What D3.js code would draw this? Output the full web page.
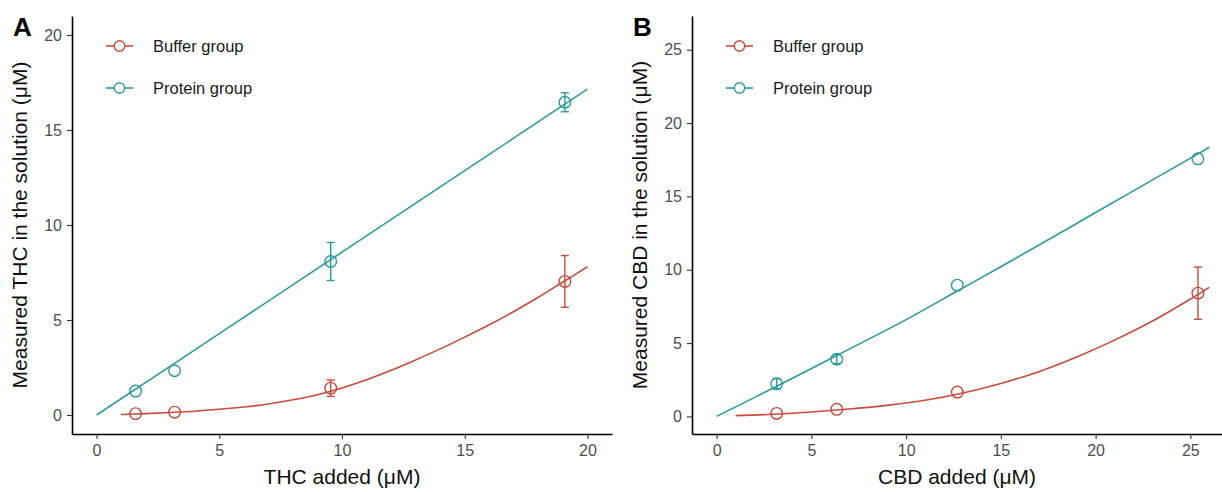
<!DOCTYPE html>
<html>
<head>
<meta charset="utf-8">
<script src="https://cdn.jsdelivr.net/npm/d3@7"></script>
<style>
  body { margin: 0; background: #fff; }
  text { font-family: "Liberation Sans", Arial, sans-serif; }
</style>
</head>
<body>
<div id="chart"></div>
<script>
// panel A - THC
const thcAdded = [1.59, 3.18, 9.54, 19.08];
const thcBuffer = [0.07, 0.15, 1.41, 7.03];
const thcBufferErr = [0.05, 0.05, 0.43, 1.36];
const thcProtein = [1.26, 2.33, 8.08, 16.46];
const thcProteinErr = [0.05, 0.05, 1.0, 0.5];
const thcBufferFitX = [1, 2, 3, 4, 5, 6, 7, 8, 9, 10, 11, 12, 13, 14, 15, 16, 17, 18, 19, 20];
const thcBufferFitY = [0.03, 0.07, 0.13, 0.2, 0.3, 0.42, 0.58, 0.8, 1.07, 1.42, 1.85, 2.35, 2.9, 3.48, 4.1, 4.75, 5.45, 6.2, 7.0, 7.8];
const thcProteinFitX = [0, 5, 10, 15, 20];
const thcProteinFitY = [0, 4.28, 8.57, 12.86, 17.15];

// panel B - CBD
const cbdAdded = [3.17, 6.34, 12.7, 25.4];
const cbdBuffer = [0.2, 0.48, 1.66, 8.4];
const cbdBufferErr = [0.05, 0.05, 0.05, 1.78];
const cbdProtein = [2.22, 3.9, 8.95, 17.56];
const cbdProteinErr = [0.35, 0.3, 0.05, 0.05];
const cbdBufferFitX = [1, 3, 5, 7, 9, 11, 13, 15, 17, 19, 21, 23, 25, 26];
const cbdBufferFitY = [0.05, 0.15, 0.3, 0.5, 0.75, 1.1, 1.6, 2.25, 3.05, 4.05, 5.2, 6.5, 8.0, 8.8];
const cbdProteinFitX = [0, 3.17, 6.34, 10, 12.7, 15, 20, 25.4, 26];
const cbdProteinFitY = [0, 2.05, 4.15, 6.6, 8.55, 10.2, 13.9, 17.9, 18.35];

const yTicksA = [0, 5, 10, 15, 20];
const xTicksA = [0, 5, 10, 15, 20];
const yTicksB = [0, 5, 10, 15, 20, 25];
const xTicksB = [0, 5, 10, 15, 20, 25];

const groupNames = ["Buffer group", "Protein group"];
const red = "#c84a3c";
const teal = "#2b9a9c";

const svg = d3.select("#chart").append("svg")
  .attr("width", 1222).attr("height", 492);

function drawPanel(opt) {
  const x = d3.scaleLinear().domain(opt.xDomain).range(opt.xRange);
  const y = d3.scaleLinear().domain(opt.yDomain).range([434, 16]);
  const g = svg.append("g");

  // axes
  const xAxis = g.append("g").attr("transform", "translate(0,434)")
    .call(d3.axisBottom(x).tickValues(opt.xTicks).tickSize(5).tickSizeOuter(0).tickPadding(6));
  const yAxis = g.append("g").attr("transform", `translate(${opt.xRange[0]},0)`)
    .call(d3.axisLeft(y).tickValues(opt.yTicks).tickSize(5).tickSizeOuter(0).tickPadding(5));
  [xAxis, yAxis].forEach(a => {
    a.select(".domain").attr("stroke", "#000").attr("stroke-width", 1.6);
    a.selectAll(".tick line").attr("stroke", "#333").attr("stroke-width", 1.1);
    a.selectAll(".tick text").attr("fill", "#4d4d4d").style("font-size", "16px");
  });

  const line = d3.line().x(d => x(d[0])).y(d => y(d[1])).curve(d3.curveCatmullRom);

  const series = [
    { color: red, fx: opt.bufFitX, fy: opt.bufFitY, vals: opt.buf, err: opt.bufErr },
    { color: teal, fx: opt.proFitX, fy: opt.proFitY, vals: opt.pro, err: opt.proErr }
  ];

  series.forEach(s => {
    g.append("path")
      .datum(d3.zip(s.fx, s.fy))
      .attr("d", line)
      .attr("fill", "none")
      .attr("stroke", s.color)
      .attr("stroke-width", 1.6);

    const pts = opt.added.map((a, i) => ({ x: a, y: s.vals[i], e: s.err[i] }));
    const eb = g.append("g").attr("stroke", s.color).attr("stroke-width", 1.4);
    pts.filter(d => d.e > 0.1).forEach(d => {
      eb.append("line").attr("x1", x(d.x)).attr("x2", x(d.x))
        .attr("y1", y(d.y - d.e)).attr("y2", y(d.y + d.e));
      [d.y - d.e, d.y + d.e].forEach(v => {
        eb.append("line").attr("x1", x(d.x) - 4).attr("x2", x(d.x) + 4)
          .attr("y1", y(v)).attr("y2", y(v));
      });
    });
    g.selectAll(null).data(pts).enter().append("circle")
      .attr("cx", d => x(d.x)).attr("cy", d => y(d.y))
      .attr("r", 5.8)
      .attr("fill", "none")
      .attr("stroke", s.color)
      .attr("stroke-width", 1.4);
  });

  // legend
  const lg = g.append("g").attr("transform", `translate(${opt.xRange[0] + 34},46)`);
  groupNames.forEach((name, i) => {
    const c = i === 0 ? red : teal;
    const row = lg.append("g").attr("transform", `translate(0,${i * 42})`);
    row.append("line").attr("x1", 0).attr("x2", 27).attr("stroke", c).attr("stroke-width", 1.6);
    row.append("circle").attr("cx", 13.5).attr("r", 5.2).attr("fill", "#fff")
      .attr("stroke", c).attr("stroke-width", 1.4);
    row.append("text").attr("x", 47).attr("y", 6).style("font-size", "16.5px")
      .attr("fill", "#1a1a1a").text(name);
  });

  // titles
  g.append("text")
    .attr("x", (opt.xRange[0] + opt.xRange[1]) / 2).attr("y", 484)
    .attr("text-anchor", "middle").style("font-size", "21px").attr("fill", "#111")
    .text(opt.xTitle);
  g.append("text")
    .attr("transform", `translate(${opt.xRange[0] - 45},225) rotate(-90)`)
    .attr("text-anchor", "middle").style("font-size", "21px").attr("fill", "#111")
    .text(opt.yTitle);
  g.append("text")
    .attr("x", opt.xRange[0] - 59).attr("y", 36)
    .style("font-size", "26px").style("font-weight", "bold").attr("fill", "#000")
    .text(opt.label);
}

drawPanel({
  label: "A",
  xDomain: [-1, 21], xRange: [72, 612], yDomain: [-1, 21],
  xTicks: xTicksA, yTicks: yTicksA,
  added: thcAdded,
  buf: thcBuffer, bufErr: thcBufferErr, pro: thcProtein, proErr: thcProteinErr,
  bufFitX: thcBufferFitX, bufFitY: thcBufferFitY,
  proFitX: thcProteinFitX, proFitY: thcProteinFitY,
  xTitle: "THC added (μM)",
  yTitle: "Measured THC in the solution (μM)"
});

drawPanel({
  label: "B",
  xDomain: [-1.3, 26.67], xRange: [692, 1222], yDomain: [-1.2, 27.3],
  xTicks: xTicksB, yTicks: yTicksB,
  added: cbdAdded,
  buf: cbdBuffer, bufErr: cbdBufferErr, pro: cbdProtein, proErr: cbdProteinErr,
  bufFitX: cbdBufferFitX, bufFitY: cbdBufferFitY,
  proFitX: cbdProteinFitX, proFitY: cbdProteinFitY,
  xTitle: "CBD added (μM)",
  yTitle: "Measured CBD in the solution (μM)"
});
</script>
</body>
</html>
